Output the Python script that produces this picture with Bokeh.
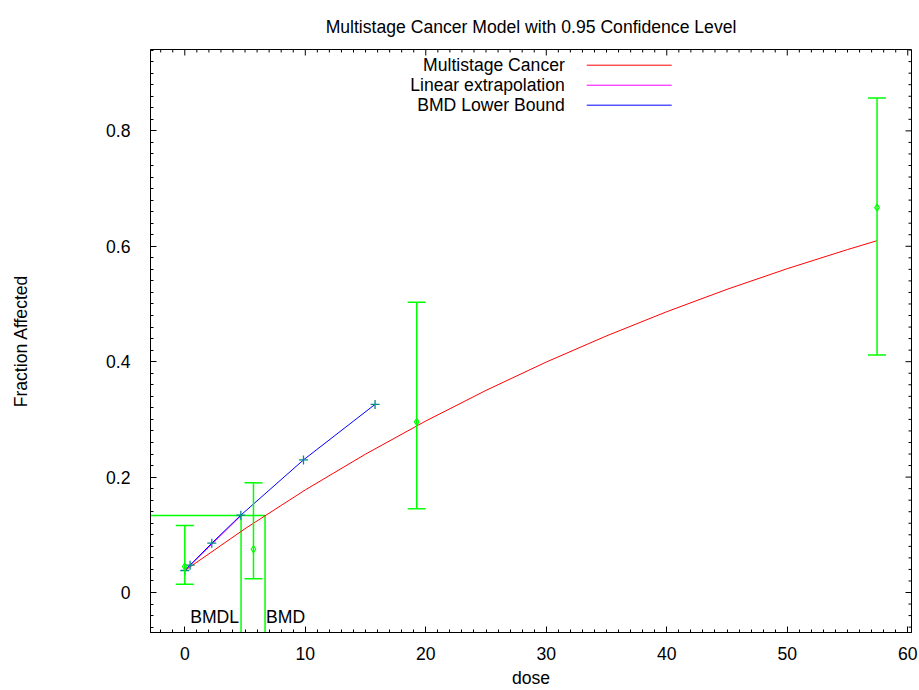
import numpy as np
from bokeh.plotting import figure
from bokeh.models import (Range1d, SingleIntervalTicker,
                          CustomJSTickFormatter, ColumnDataSource)
from bokeh.core.properties import value
from bokeh.embed import file_html
from bokeh.resources import INLINE

# ---------------- data ----------------
obs_dose = [0.0, 5.70, 19.25, 57.45]
obs_frac = [0.045, 0.075, 0.2956, 0.667]
obs_lo = [0.0145, 0.0237, 0.145, 0.4116]
obs_hi = [0.116, 0.190, 0.503, 0.857]

model_dose = [0, 5, 10, 15, 20, 25, 30, 35, 40, 45, 50, 55, 57.45]
model_frac = [0.038, 0.1106, 0.1778, 0.2398, 0.2972, 0.3503, 0.3994,
              0.4447, 0.4866, 0.5254, 0.5612, 0.5943, 0.6097]

bmdl_dose = [0.0, 0.44, 2.24, 4.65, 9.85, 15.79]
bmdl_frac = [0.0381, 0.0474, 0.0855, 0.134, 0.2298, 0.326]

bmd = 6.66
bmdl = 4.67
bmr_level = 0.1333

lin_dose = [0.0, bmdl]
lin_frac = [0.038, bmr_level]

legend_labels = ["Multistage Cancer", "Linear extrapolation", "BMD Lower Bound"]
legend_colors = ["#ff0000", "#ff00ff", "#0000ff"]

x_major = [0, 10, 20, 30, 40, 50, 60]
y_major = [0, 0.2, 0.4, 0.6, 0.8]

x_start, x_end = -2.846, 60.31
y_start, y_end = -0.0693, 0.941

# legend layout (data units)
leg_text_x = 31.54
leg_line_x0, leg_line_x1 = 33.36, 40.41
leg_rows = [0.9138, 0.8791, 0.8445]

FONT = "Liberation Sans"
FS = "17.6px"
GREEN = "#00ff00"

W, H = 919, 690
BL, BR, BT, BB = 150, 8, 49, 57
FW, FH = W - BL - BR, H - BT - BB

p = figure(width=W, height=H, output_backend="svg", toolbar_location=None,
           x_range=Range1d(x_start, x_end), y_range=Range1d(y_start, y_end),
           min_border_left=BL, min_border_right=BR, min_border_top=BT,
           min_border_bottom=BB,
           title="Multistage Cancer Model with 0.95 Confidence Level",
           x_axis_label="dose", y_axis_label="Fraction Affected")

p.background_fill_color = "white"
p.border_fill_color = "white"
p.outline_line_color = "black"
p.outline_line_width = 1
p.xgrid.visible = False
p.ygrid.visible = False

p.title.align = "center"
p.title.text_font = FONT
p.title.text_font_size = FS
p.title.text_font_style = "normal"
p.title.text_color = "black"
p.title.standoff = 25

xfmt = CustomJSTickFormatter(code="return Math.round(tick).toString();")
yfmt = CustomJSTickFormatter(code="return (Math.round(tick*10)/10).toString();")


def style_axis(ax):
    ax.major_tick_in = 6
    ax.major_tick_out = 0
    ax.minor_tick_in = 3
    ax.minor_tick_out = 0
    ax.axis_line_color = "black"
    ax.major_tick_line_color = "black"
    ax.minor_tick_line_color = "black"
    ax.major_label_text_font = FONT
    ax.major_label_text_font_size = FS
    ax.major_label_text_color = "black"
    ax.axis_label_text_font = FONT
    ax.axis_label_text_font_size = FS
    ax.axis_label_text_font_style = "normal"
    ax.axis_label_text_color = "black"


xa = p.xaxis[0]
xa.ticker = SingleIntervalTicker(interval=10, num_minor_ticks=10)
xa.formatter = xfmt
style_axis(xa)
xa.major_label_standoff = 14
xa.axis_label_standoff = 5

ya = p.yaxis[0]
ya.ticker = SingleIntervalTicker(interval=0.2, num_minor_ticks=10)
ya.formatter = yfmt
style_axis(ya)
ya.major_label_standoff = 20
ya.axis_label_standoff = 72

# ---------------- mirrored tick marks on top and right frame edges ----------------
p.extra_x_ranges = {"px": Range1d(0, FW)}
p.extra_y_ranges = {"py": Range1d(0, FH)}

x_minor = [v for v in np.arange(-2, 61, 1.0) if v % 10 != 0]
y_minor = [round(v, 2) for v in np.arange(-0.06, 0.941, 0.02)
           if abs(v / 0.2 - round(v / 0.2)) > 1e-6]

for ticks, ln in ((x_major, 6), (x_minor, 3)):
    p.segment(x0=ticks, x1=ticks, y0=[FH] * len(ticks), y1=[FH - ln] * len(ticks),
              y_range_name="py", line_color="black", line_width=1)
for ticks, ln in ((y_major, 6), (y_minor, 3)):
    p.segment(y0=ticks, y1=ticks, x0=[FW] * len(ticks), x1=[FW - ln] * len(ticks),
              x_range_name="px", line_color="black", line_width=1)

# ---------------- BMD / BMDL guide lines ----------------
guide = ColumnDataSource(dict(
    x0=[x_start, bmdl, bmd],
    y0=[bmr_level, bmr_level, bmr_level],
    x1=[bmd, bmdl, bmd],
    y1=[bmr_level, y_start, y_start],
))
p.segment("x0", "y0", "x1", "y1", source=guide, line_color=GREEN, line_width=1.5)

p.text(x=[bmdl], y=[-0.0426], text=["BMDL"], text_align="right",
       text_baseline="middle", x_offset=-2, text_font=value(FONT),
       text_font_size=FS, text_color="black")
p.text(x=[bmd], y=[-0.0426], text=["BMD"], text_align="left",
       text_baseline="middle", x_offset=1, text_font=value(FONT),
       text_font_size=FS, text_color="black")

# ---------------- model curves ----------------
p.line(model_dose, model_frac, line_color="#ff0000", line_width=1)
p.line(lin_dose, lin_frac, line_color="#ff00ff", line_width=1)
p.line(bmdl_dose, bmdl_frac, line_color="#0000ff", line_width=1)
p.scatter(bmdl_dose, bmdl_frac, marker="cross", size=9,
          line_color="#008b8b", line_width=1.3)

# ---------------- observed data with error bars ----------------
obs = ColumnDataSource(dict(x=obs_dose, y=obs_frac, lo=obs_lo, hi=obs_hi))
p.segment("x", "lo", "x", "hi", source=obs, line_color=GREEN, line_width=1.5)
p.scatter("x", "lo", source=obs, marker="dash", size=18,
          line_color=GREEN, line_width=1.5)
p.scatter("x", "hi", source=obs, marker="dash", size=18,
          line_color=GREEN, line_width=1.5)
p.scatter("x", "y", source=obs, marker="diamond", size=7,
          fill_alpha=0, line_color=GREEN, line_width=1.2)

# ---------------- legend (gnuplot style: text then line sample) ----------------
p.text(x=[leg_text_x] * 3, y=leg_rows, text=legend_labels,
       text_align="right", text_baseline="middle", text_font=value(FONT),
       text_font_size=FS, text_color="black")
p.segment(x0=[leg_line_x0] * 3, y0=leg_rows, x1=[leg_line_x1] * 3, y1=leg_rows,
          line_color=legend_colors, line_width=1)

open("out.html", "w").write(file_html(p, INLINE))
